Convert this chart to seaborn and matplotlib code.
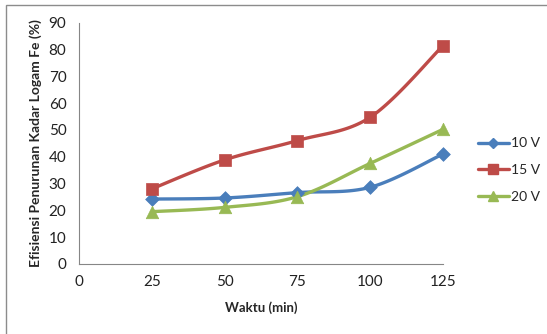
import numpy as np
import pandas as pd
import matplotlib
matplotlib.use('Agg')
import matplotlib.pyplot as plt
from matplotlib.lines import Line2D
from matplotlib.patches import Rectangle
import seaborn as sns

waktu = [25, 50, 75, 100, 125]
v10 = [24.2, 24.6, 26.6, 28.6, 41.0]
v15 = [28.0, 38.8, 46.0, 54.7, 81.4]
v20 = [19.5, 21.1, 25.1, 37.5, 50.2]
labels = ['10 V', '15 V', '20 V']
warna = ['#4A7EBB', '#BE4B48', '#98B954']
penanda = ['D', 's', '^']
ukuran = [7, 9, 9]


def kurva_halus(x, y, n=30):
    # garis halus gaya Excel (Catmull-Rom) di antara titik data
    x = np.asarray(x, float)
    y = np.asarray(y, float)
    px = np.concatenate([[x[0]], x, [x[-1]]])
    py = np.concatenate([[y[0]], y, [y[-1]]])
    xs, ys = [], []
    for i in range(1, len(px) - 2):
        t = np.linspace(0, 1, n)
        for arr, out in ((px, xs), (py, ys)):
            p0, p1, p2, p3 = arr[i - 1], arr[i], arr[i + 1], arr[i + 2]
            out.extend(0.5 * ((2 * p1) + (-p0 + p2) * t
                              + (2 * p0 - 5 * p1 + 4 * p2 - p3) * t ** 2
                              + (-p0 + 3 * p1 - 3 * p2 + p3) * t ** 3))
    return np.array(xs), np.array(ys)


sns.set_style('white')
plt.rcParams['font.family'] = ['Lato', 'DejaVu Sans']

fig = plt.figure(figsize=(5.47, 3.34), dpi=100)
ax = fig.add_axes([0.1444, 0.2096, 0.6656, 0.723])

fig.patches.append(Rectangle((6 / 547, -0.1), 1.2, 0.1 + 1 - 5 / 334, transform=fig.transFigure,
                             fill=False, edgecolor='#8c8c8c', linewidth=1.0, zorder=0))

handles = []
for y, lab, c, m, s in zip([v10, v15, v20], labels, warna, penanda, ukuran):
    xs, ys = kurva_halus(waktu, y)
    df_halus = pd.DataFrame({'x': xs, 'y': ys})
    sns.lineplot(data=df_halus, x='x', y='y', ax=ax, color=c, linewidth=2.4, sort=False,
                 estimator=None, zorder=3)
    df_titik = pd.DataFrame({'x': waktu, 'y': y})
    sns.scatterplot(data=df_titik, x='x', y='y', ax=ax, color=c, marker=m, s=s ** 2,
                    edgecolor=c, linewidth=0.5, zorder=4, clip_on=False)
    handles.append(Line2D([0], [0], color=c, linewidth=2.4, marker=m, markersize=s * 0.8,
                          markeredgecolor=c))

ax.set_xlim(0, 125)
ax.set_ylim(0, 90)
ax.set_xticks([0, 25, 50, 75, 100, 125])
ax.set_yticks(range(0, 91, 10))
ax.tick_params(axis='both', length=0, labelsize=11, colors='#222222')
ax.tick_params(axis='x', pad=8)
ax.tick_params(axis='y', pad=9)
for sisi in ['top', 'right']:
    ax.spines[sisi].set_visible(False)
for sisi in ['left', 'bottom']:
    ax.spines[sisi].set_color('#868686')
    ax.spines[sisi].set_linewidth(0.8)

ax.set_xlabel('Waktu (min)', fontsize=9.5, fontweight='bold', labelpad=9)
ax.set_ylabel('Efisiensi Penurunan Kadar Logam Fe (%)', fontsize=10, fontweight='bold', labelpad=5)

fig.legend(handles, labels, loc='center left', bbox_to_anchor=(0.874, 0.491), frameon=False,
           fontsize=10, handlelength=2.2, handletextpad=0.15, labelspacing=1.05,
           borderaxespad=0, borderpad=0)

fig.savefig('out.png', dpi=100)
